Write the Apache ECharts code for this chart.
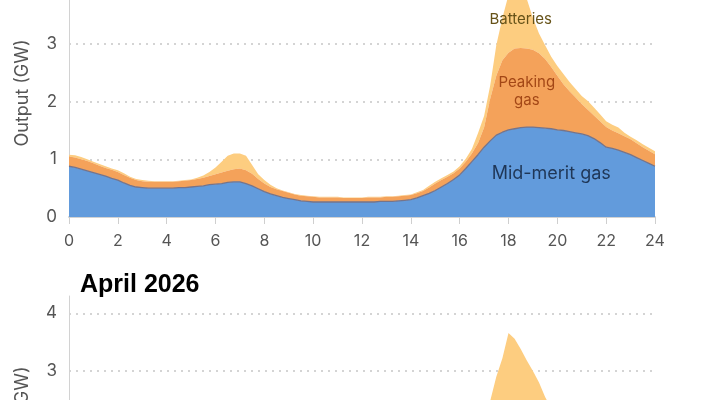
<!DOCTYPE html>
<html>
<head>
<meta charset="utf-8">
<script src="https://cdn.jsdelivr.net/npm/echarts@6/dist/echarts.min.js"></script>
<style>
  html, body { margin: 0; padding: 0; background: #fff; }
  #chart { width: 720px; height: 400px; }
</style>
</head>
<body>
<div id="chart"></div>
<script>
// ---- Data (GW), one value every 15 minutes from 0:00 to 24:00 ----
const hours = Array.from({ length: 97 }, (_, i) => i * 0.25);
const hourLabels = hours.map((h) => String(h));
const yTicks = [0, 1, 2, 3, 4];
const seriesNames = ['Mid-merit gas', 'Peaking gas', 'Batteries'];
const titleApril = 'April 2026';

// Upper panel (month title above the visible area)
const midMeritA = [
  0.88,0.86,0.83,0.80,0.77,0.74,0.71,0.67,0.64,
  0.59,0.55,0.52,0.51,0.50,0.50,0.50,0.50,
  0.50,0.51,0.51,0.52,0.53,0.54,0.56,0.57,
  0.58,0.60,0.61,0.61,0.58,0.54,0.49,0.44,
  0.40,0.37,0.34,0.32,0.30,0.28,0.27,0.26,
  0.26,0.26,0.26,0.26,0.26,0.26,0.26,0.26,
  0.26,0.26,0.27,0.27,0.27,0.28,0.29,0.30,
  0.33,0.37,0.41,0.46,0.52,0.58,0.65,0.73,
  0.84,0.96,1.08,1.21,1.32,1.42,1.47,1.51,
  1.53,1.55,1.56,1.56,1.55,1.54,1.53,1.51,
  1.50,1.48,1.46,1.44,1.41,1.36,1.29,1.21,
  1.19,1.16,1.12,1.08,1.03,0.98,0.93,0.88
];
const peakingA = [
  0.17,0.17,0.17,0.17,0.16,0.15,0.14,0.15,0.14,
  0.14,0.13,0.12,0.11,0.11,0.11,0.11,0.11,
  0.11,0.11,0.12,0.12,0.13,0.14,0.15,0.17,
  0.19,0.20,0.22,0.23,0.23,0.21,0.17,0.14,
  0.12,0.11,0.11,0.10,0.09,0.09,0.09,0.09,
  0.08,0.08,0.08,0.08,0.07,0.07,0.07,0.07,
  0.08,0.08,0.07,0.08,0.08,0.08,0.08,0.08,
  0.08,0.08,0.10,0.12,0.12,0.12,0.11,0.11,
  0.12,0.14,0.20,0.34,0.73,1.03,1.25,1.34,
  1.39,1.38,1.36,1.34,1.29,1.20,1.07,0.94,
  0.80,0.70,0.61,0.52,0.45,0.40,0.37,0.35,
  0.31,0.29,0.28,0.27,0.25,0.23,0.22,0.21
];
const batteriesA = [
  0.03,0.04,0.04,0.03,0.03,0.03,0.03,0.02,0.03,
  0.03,0.02,0.02,0.02,0.02,0.01,0.01,0.01,
  0.01,0.01,0.01,0.01,0.02,0.04,0.07,0.12,
  0.19,0.26,0.27,0.26,0.25,0.15,0.08,0.06,
  0.04,0.02,0.01,0.01,0.01,0.01,0.01,0.01,
  0.01,0.01,0.01,0.01,0.01,0.01,0.01,0.01,
  0.01,0.01,0.01,0.01,0.01,0.01,0.01,0.01,
  0.02,0.02,0.03,0.03,0.03,0.03,0.03,0.04,
  0.05,0.08,0.17,0.20,0.23,0.53,0.73,1.00,
  1.10,1.05,0.86,0.55,0.34,0.24,0.18,0.17,
  0.18,0.16,0.15,0.14,0.15,0.14,0.12,0.10,
  0.10,0.10,0.06,0.04,0.05,0.05,0.05,0.05
];

// Lower panel: April 2026 (only its upper part is in view)
const midMeritB = [
  0.70,0.68,0.66,0.63,0.60,0.57,0.54,0.51,0.48,
  0.45,0.43,0.41,0.40,0.40,0.40,0.40,0.40,
  0.40,0.41,0.42,0.43,0.44,0.45,0.46,0.47,
  0.48,0.49,0.49,0.48,0.45,0.41,0.37,0.33,
  0.29,0.26,0.24,0.22,0.21,0.20,0.20,0.20,
  0.20,0.20,0.20,0.20,0.20,0.20,0.20,0.20,
  0.20,0.20,0.20,0.20,0.20,0.21,0.22,0.23,
  0.25,0.28,0.32,0.37,0.42,0.48,0.55,0.62,
  0.70,0.79,0.88,0.97,1.04,1.10,1.14,1.17,
  1.19,1.20,1.20,1.19,1.18,1.17,1.16,1.15,
  1.13,1.11,1.09,1.07,1.04,1.00,0.96,0.92,
  0.89,0.86,0.83,0.80,0.77,0.74,0.72,0.70
];
const peakingB = [
  0.12,0.12,0.12,0.12,0.11,0.11,0.10,0.10,0.10,
  0.09,0.09,0.09,0.09,0.09,0.09,0.09,0.09,
  0.09,0.09,0.09,0.10,0.10,0.11,0.12,0.13,
  0.14,0.15,0.15,0.15,0.14,0.12,0.10,0.09,
  0.08,0.07,0.07,0.06,0.06,0.06,0.06,0.06,
  0.06,0.06,0.06,0.06,0.06,0.06,0.06,0.06,
  0.06,0.06,0.06,0.06,0.06,0.06,0.06,0.06,
  0.06,0.06,0.07,0.07,0.08,0.08,0.09,0.10,
  0.12,0.15,0.22,0.35,0.50,0.65,0.75,0.82,
  0.85,0.84,0.80,0.74,0.66,0.56,0.46,0.38,
  0.32,0.27,0.23,0.20,0.18,0.17,0.16,0.15,
  0.15,0.14,0.14,0.13,0.13,0.12,0.12,0.12
];
const batteriesB = [
  0.03,0.03,0.03,0.03,0.03,0.02,0.02,0.02,0.02,
  0.02,0.02,0.01,0.01,0.01,0.01,0.01,0.01,
  0.01,0.01,0.01,0.02,0.03,0.05,0.08,0.12,
  0.16,0.18,0.18,0.16,0.12,0.08,0.05,0.03,
  0.02,0.02,0.01,0.01,0.01,0.01,0.01,0.01,
  0.01,0.01,0.01,0.01,0.01,0.01,0.01,0.01,
  0.01,0.01,0.01,0.01,0.01,0.01,0.01,0.01,
  0.02,0.02,0.02,0.03,0.03,0.03,0.04,0.05,
  0.08,0.11,0.30,0.58,0.94,1.15,1.33,1.67,
  1.52,1.34,1.18,1.07,0.96,0.82,0.73,0.62,
  0.50,0.42,0.33,0.25,0.20,0.18,0.16,0.13,
  0.10,0.08,0.06,0.05,0.05,0.04,0.04,0.04
];

// ---- Styling ----
const FONT = 'Inter, "Noto Sans", sans-serif';
const colors = ['#629bdc', '#f4a25a', '#fdcd80'];

function panelAxes(gridIndex) {
  const x = {
    type: 'category', gridIndex, data: hourLabels, boundaryGap: false,
    axisLine: { show: true, onZero: false, lineStyle: { color: '#d2d2d2', width: 2 } },
    axisTick: { show: true, interval: 7, length: 7, lineStyle: { color: '#cfcfcf', width: 1 } },
    axisLabel: { show: true, interval: 7, margin: 16, color: '#555', fontSize: 16, fontFamily: FONT },
    splitLine: { show: false }
  };
  const y = {
    type: 'value', gridIndex, min: 0, max: 4.3, interval: 1,
    name: 'Output (GW)', nameLocation: 'middle', nameGap: 37,
    nameTextStyle: { color: '#555', fontSize: 18, fontFamily: FONT },
    axisLine: { show: true, lineStyle: { color: '#d2d2d2', width: 1 } },
    axisTick: { show: false },
    axisLabel: {
      margin: 12, color: '#555', fontSize: 17, fontFamily: FONT, showMaxLabel: false,
      formatter: (v) => (yTicks.indexOf(v) >= 0 ? String(v) : '')
    },
    splitLine: {
      show: true, showMinLine: false, showMaxLine: false,
      lineStyle: { color: '#d4d4d4', width: 2, type: [2, 5] }
    }
  };
  return { x, y };
}

// label anchor positions expressed in (hour, GW)
const labelSpots = [
  { h: 19.82, v: 0.75, text: 'Mid-merit gas', color: '#1f3656', size: 18 },
  { h: 18.84, v: 2.18, text: 'Peaking\ngas', color: '#a34716', size: 15 },
  { h: 18.43, v: 3.43, text: 'Batteries', color: '#665218', size: 15 }
];

function stackSeries(idx, stack, mid, peak, bat, withLabels) {
  const base = { type: 'line', xAxisIndex: idx, yAxisIndex: idx, stack, showSymbol: false, symbol: 'none', smooth: false, silent: true };
  const mid0 = Object.assign({}, base, {
    name: seriesNames[0], data: mid, z: 4,
    lineStyle: { width: 1.3, color: '#76748a' },
    areaStyle: { color: colors[0], opacity: 1 }
  });
  if (withLabels) {
    mid0.markPoint = {
      silent: true, symbol: 'rect', symbolSize: 1, itemStyle: { color: 'rgba(0,0,0,0)' },
      label: { show: true, position: 'inside', fontFamily: FONT, align: 'center', verticalAlign: 'middle' },
      data: labelSpots.map((s) => ({
        coord: [s.h / 0.25, s.v],
        label: { formatter: s.text, color: s.color, fontSize: s.size, lineHeight: 18 }
      }))
    };
  }
  return [
    mid0,
    Object.assign({}, base, {
      name: seriesNames[1], data: peak, z: 3,
      lineStyle: { width: 0 }, areaStyle: { color: colors[1], opacity: 1 }
    }),
    Object.assign({}, base, {
      name: seriesNames[2], data: bat, z: 2,
      lineStyle: { width: 0 }, areaStyle: { color: colors[2], opacity: 1 }
    })
  ];
}

const a0 = panelAxes(0);
const a1 = panelAxes(1);

const chart = echarts.init(document.getElementById('chart'), null, { renderer: 'canvas' });
chart.setOption({
  animation: false,
  backgroundColor: '#fff',
  textStyle: { fontFamily: FONT },
  title: [{
    text: titleApril, left: 80, top: 273, padding: 0,
    textStyle: { fontFamily: '"Liberation Sans", Arial, sans-serif', fontWeight: 'bold', fontSize: 25, color: '#000' }
  }],
  grid: [
    { left: 69, right: 65, top: -31, height: 248, containLabel: false, outerBoundsMode: 'none' },
    { left: 69, right: 65, top: 296, height: 248, containLabel: false, outerBoundsMode: 'none' }
  ],
  xAxis: [a0.x, a1.x],
  yAxis: [a0.y, a1.y],
  series: [
    ...stackSeries(0, 'upper', midMeritA, peakingA, batteriesA, true),
    ...stackSeries(1, 'april', midMeritB, peakingB, batteriesB, false)
  ]
});
</script>
</body>
</html>
